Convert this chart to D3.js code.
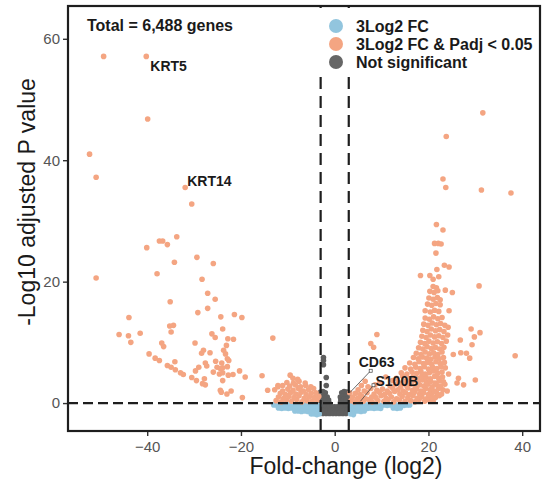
<!DOCTYPE html>
<html>
  <head>
    <meta charset="utf-8" />
    <title>Volcano plot</title>
    <style>
      body {
        margin: 0;
        background: #fff;
      }
      text {
        font-family: "Liberation Sans", Arial, sans-serif;
      }
    </style>
    <script src="https://d3js.org/d3.v7.min.js"></script>
  </head>
  <body>
    <div id="chart"></div>
    <script>
      // ---- data: [log2 fold-change, -log10 padj] ----

      // orange: |log2FC| > 3 and padj < 0.05, left (down) side
      const sigDown = [
        [-49.3, 57.1], [-40.2, 57.1], [-39.9, 46.8], [-52.3, 41.0], [-50.9, 37.2],
        [-31.9, 35.5], [-30.5, 32.8], [-33.7, 27.4], [-37.4, 26.7], [-36.7, 26.7],
        [-35.7, 26.1], [-40.1, 25.6], [-50.9, 20.6], [-37.9, 21.3], [-34.2, 23.2],
        [-29.4, 24.0], [-25.9, 23.0], [-28.3, 20.4], [-35.1, 16.7], [-27.1, 18.1],
        [-25.5, 17.1], [-27.1, 15.6], [-29.2, 14.9], [-24.3, 14.2], [-21.4, 14.6],
        [-19.8, 14.1], [-43.9, 14.1], [-35.2, 12.7], [-34.4, 12.8], [-34.9, 11.7],
        [-23.9, 12.2], [-46.0, 11.3], [-44.0, 11.1], [-41.5, 11.5], [-43.5, 10.0],
        [-26.2, 11.4], [-25.5, 10.8], [-22.8, 10.6], [-21.6, 10.5], [-13.2, 10.7],
        [-36.9, 9.9], [-36.5, 9.3], [-29.8, 9.9], [-23.1, 9.5], [-28.0, 8.7],
        [-28.4, 8.2], [-26.6, 8.3], [-23.7, 8.7], [-23.3, 8.1], [-39.6, 8.1],
        [-38.3, 7.4], [-37.4, 7.0], [-34.1, 6.8], [-22.9, 7.3], [-22.6, 7.0],
        [-27.6, 6.6], [-25.4, 6.9], [-24.1, 6.6], [-35.7, 6.2], [-34.9, 5.9],
        [-29.0, 5.9], [-25.1, 5.9], [-23.9, 5.8], [-22.9, 6.0], [-34.0, 5.5],
        [-29.7, 5.3], [-25.9, 5.1], [-24.6, 4.8], [-23.9, 5.0], [-20.3, 5.3],
        [-32.9, 5.0], [-32.3, 4.7], [-30.5, 4.2], [-27.8, 4.0], [-29.5, 3.7],
        [-22.7, 4.6], [-21.7, 4.7], [-19.1, 4.3], [-15.5, 4.5], [-28.2, 3.2],
        [-27.6, 3.0], [-23.9, 3.7], [-24.4, 2.1], [-23.0, 1.5], [-22.1, 2.0],
        [-19.7, 0.9], [-14.3, 2.1], [-12.1, 2.9], [-24.4, 5.7], [-27.3, 6.1],
        [-24.2, 1.8],
        // dense patch just left of the -3 cut-off
        [-12.5, 0.4], [-11.4, 0.2], [-10.3, 0.5], [-9.2, 0.3], [-8.1, 0.6],
        [-7.0, 0.2], [-5.9, 0.4], [-4.8, 0.3], [-3.7, 0.5],
        [-12.0, 1.0], [-10.9, 0.8], [-9.8, 1.1], [-8.7, 0.9], [-7.6, 1.2],
        [-6.5, 0.8], [-5.4, 1.0], [-4.3, 0.9], [-3.4, 1.1],
        [-11.6, 1.6], [-10.5, 1.4], [-9.4, 1.7], [-8.3, 1.5], [-7.2, 1.8],
        [-6.1, 1.4], [-5.0, 1.6], [-4.0, 1.7],
        [-12.8, 2.2], [-11.1, 2.0], [-10.0, 2.3], [-8.9, 2.1], [-7.8, 2.4],
        [-6.7, 2.0], [-5.6, 2.2], [-4.5, 2.4],
        [-12.1, 2.7], [-11.1, 2.9], [-9.6, 2.8], [-8.4, 3.0], [-7.3, 2.7],
        [-6.2, 2.9], [-5.1, 2.7],
        [-10.2, 3.4], [-8.8, 3.3], [-7.6, 3.6], [-6.3, 3.3],
        [-9.5, 4.6], [-8.9, 4.1], [-7.9, 3.9]
      ];

      // orange, right (up) side
      const sigUp = [
        [3.5, 0.4], [4.2, 0.2], [5.0, 0.5], [6.1, 0.3], [7.3, 0.6], [8.0, 0.2],
        [9.2, 0.4], [10.5, 0.3], [11.4, 0.6], [12.6, 0.2], [13.8, 0.5], [15.0, 0.3],
        [16.2, 0.4], [17.1, 0.2], [18.0, 0.6], [19.2, 0.3], [20.1, 0.5], [21.0, 0.3],
        [3.8, 1.0], [4.9, 0.8], [5.8, 1.1], [6.6, 0.7], [7.9, 1.0], [8.8, 0.9],
        [9.9, 1.2], [11.0, 0.8], [12.1, 1.0], [13.2, 0.7], [14.4, 1.1], [15.6, 0.9],
        [16.7, 1.2], [17.6, 0.8], [18.6, 1.0], [19.6, 0.7], [20.6, 1.1], [21.5, 0.9],
        [22.3, 1.2],
        [4.4, 1.6], [5.4, 1.4], [6.9, 1.7], [8.4, 1.5], [9.5, 1.8], [10.6, 1.4],
        [11.7, 1.6], [12.8, 1.9], [13.9, 1.5], [15.1, 1.7], [16.0, 1.4], [17.0, 1.8],
        [18.1, 1.5], [19.0, 1.7], [20.0, 1.4], [20.9, 1.8], [21.8, 1.6], [22.8, 1.5],
        [5.0, 2.2], [6.3, 2.0], [7.7, 2.4], [9.0, 2.1], [10.2, 2.3], [11.2, 2.0],
        [12.4, 2.4], [13.5, 2.2], [14.6, 2.0], [15.6, 2.5], [16.6, 2.1], [17.5, 2.3],
        [18.4, 2.0], [19.4, 2.4], [20.3, 2.2], [21.3, 2.0], [22.2, 2.4], [23.1, 2.2],
        [24.0, 2.0],
        [5.7, 2.9], [7.1, 2.7], [8.6, 3.0], [11.8, 2.8], [13.0, 3.1], [14.1, 2.7],
        [15.3, 2.9], [16.3, 3.1], [17.2, 2.7], [18.1, 3.0], [19.0, 2.8], [19.9, 3.1],
        [20.8, 2.7], [21.7, 3.0], [22.6, 2.8], [23.5, 3.1],
        [6.5, 3.6], [9.6, 3.4], [12.3, 3.7], [13.6, 3.4], [14.8, 3.6], [15.9, 3.3],
        [16.9, 3.7], [17.8, 3.5], [18.7, 3.8], [19.6, 3.4], [20.5, 3.6], [21.4, 3.3],
        [22.3, 3.7], [23.2, 3.5], [26.1, 3.3], [27.5, 3.0],
        [10.9, 4.3], [13.2, 4.1], [14.5, 4.4], [15.7, 4.0], [16.7, 4.3], [17.7, 4.1],
        [18.6, 4.5], [19.5, 4.2], [20.4, 4.0], [21.3, 4.4], [22.2, 4.1], [23.0, 4.3],
        [26.4, 4.1], [30.0, 3.8],
        [14.2, 5.0], [15.4, 4.8], [16.5, 5.1], [17.5, 4.9], [18.4, 5.2], [19.3, 4.8],
        [20.2, 5.0], [21.1, 5.3], [22.0, 4.9], [22.9, 5.1], [24.3, 4.8],
        [15.0, 5.8], [16.2, 5.6], [17.3, 5.9], [18.2, 5.7], [19.1, 6.0], [20.0, 5.6],
        [20.9, 5.9], [21.8, 5.7], [22.7, 6.0], [23.6, 5.8],
        [16.0, 6.6], [17.1, 6.4], [18.0, 6.8], [18.9, 6.5], [19.8, 6.7], [20.7, 6.4],
        [21.6, 6.8], [22.5, 6.5], [23.4, 6.7],
        [16.8, 7.5], [17.8, 7.3], [18.7, 7.6], [19.6, 7.4], [20.5, 7.2], [21.4, 7.6],
        [22.3, 7.3], [23.2, 7.5], [28.8, 7.4],
        [17.4, 8.2], [18.4, 8.0], [19.3, 8.4], [20.2, 8.1], [21.1, 8.3], [22.0, 8.0],
        [22.9, 8.4], [25.3, 8.0], [26.9, 8.3], [28.1, 8.2],
        [17.9, 9.1], [18.8, 8.9], [19.7, 9.3], [20.6, 9.0], [21.5, 9.2], [22.4, 8.9],
        [23.3, 9.2],
        [18.3, 10.0], [19.2, 9.8], [20.1, 10.2], [21.0, 9.9], [21.9, 10.1], [22.8, 9.8],
        [23.8, 10.2], [26.8, 10.4], [29.3, 9.6],
        [18.6, 11.0], [19.5, 10.8], [20.4, 11.2], [21.3, 10.9], [22.2, 11.1], [23.1, 10.8],
        [24.1, 11.2], [29.8, 10.9],
        [18.8, 12.0], [19.7, 11.8], [20.6, 12.2], [21.5, 11.9], [22.4, 12.1], [23.3, 11.8],
        [24.2, 12.5], [29.1, 12.2], [31.0, 11.6],
        [19.0, 13.0], [19.9, 12.8], [20.8, 13.2], [21.7, 12.9], [22.6, 13.1], [23.5, 12.8],
        [19.3, 14.0], [20.2, 13.8], [21.1, 14.2], [22.0, 13.9], [22.9, 14.1],
        [19.3, 15.2], [20.4, 15.0], [21.3, 15.3], [22.2, 15.1], [24.4, 15.2],
        [19.8, 16.3], [20.7, 16.1], [21.6, 16.4], [22.5, 16.2],
        [20.1, 17.3], [21.0, 17.1], [21.9, 17.4], [22.5, 17.0],
        [20.3, 18.4], [21.2, 18.2], [22.0, 18.5], [23.6, 18.6], [25.1, 18.2],
        [21.0, 19.2], [21.7, 19.0], [30.8, 19.3],
        [18.3, 21.0], [20.3, 21.0], [21.0, 20.4], [22.2, 20.8],
        [21.8, 22.0], [23.4, 22.7], [24.4, 22.4], [21.6, 24.7],
        [21.3, 26.3], [22.1, 26.3], [22.7, 26.2],
        [21.7, 29.4], [23.1, 28.5], [23.1, 36.9], [23.7, 35.5], [31.3, 35.1],
        [37.6, 34.6], [23.8, 43.9], [31.6, 47.8],
        [9.0, 11.3], [7.7, 9.8], [8.3, 9.2], [38.5, 7.8],
        [3.2, 1.7], [5.5, 0.3]
      ];

      // blue: |log2FC| > 3 only
      const fcOnly = [
        [-13.0, -0.3], [-12.4, -0.3], [-11.8, -0.4], [-11.2, -0.3], [-10.6, -0.4],
        [-10.0, -0.3], [-9.4, -0.4], [-8.8, -0.3], [-8.2, -0.4], [-7.6, -0.3],
        [-7.0, -0.4], [-6.4, -0.3], [-5.8, -0.4], [-5.2, -0.3], [-4.6, -0.4],
        [-4.0, -0.3], [-3.4, -0.4],
        [-12.0, -0.8], [-11.3, -0.9], [-10.6, -0.8], [-9.9, -0.9], [-9.2, -0.8],
        [-8.5, -0.9], [-7.8, -0.8], [-7.1, -0.9], [-6.4, -0.8], [-5.7, -0.9],
        [-5.0, -0.8], [-4.3, -0.9], [-3.6, -0.8],
        [-8.5, -1.3], [-7.8, -1.3], [-7.1, -1.4], [-6.4, -1.3], [-5.7, -1.4],
        [-5.0, -1.3], [-4.3, -1.4], [-3.6, -1.3],
        [-5.0, -1.8], [-4.4, -1.8], [-3.8, -1.9], [-3.3, -1.8],
        [3.4, -0.3], [4.0, -0.4], [4.6, -0.3], [5.2, -0.4], [5.8, -0.3], [6.4, -0.4],
        [7.0, -0.3], [7.6, -0.4], [8.2, -0.3], [8.8, -0.4], [9.4, -0.3], [10.0, -0.4],
        [10.6, -0.3], [11.2, -0.4], [11.8, -0.3], [12.4, -0.4], [13.0, -0.3],
        [13.6, -0.4], [14.2, -0.3], [14.8, -0.4], [15.5, -0.3], [16.0, -0.3],
        [3.5, -0.8], [4.2, -0.9], [4.9, -0.8], [5.6, -0.9], [6.3, -0.8], [7.0, -0.9],
        [7.7, -0.8], [8.4, -0.9], [9.1, -0.8], [9.8, -0.9], [12.5, -0.8], [13.3, -0.9],
        [14.0, -0.8],
        [3.5, -1.3], [4.2, -1.4], [4.9, -1.3], [5.6, -1.4], [6.3, -1.3],
        [3.4, -1.8], [4.0, -1.9]
      ];

      // grey: not significant
      const notSig = [
        [-3.0, 1.8], [-2.5, 1.9], [-2.0, 1.7], [1.5, 1.7], [2.0, 1.9], [2.6, 1.8],
        [-3.1, 1.2], [-2.6, 1.2], [-2.1, 1.1], [-1.6, 1.0], [1.2, 1.0], [1.8, 1.2],
        [2.4, 1.1], [2.9, 1.2],
        [-3.1, 0.6], [-2.5, 0.6], [-1.9, 0.5], [-1.3, 0.5], [1.3, 0.5], [1.9, 0.6],
        [2.5, 0.6], [3.0, 0.6],
        [-3.0, 0.0], [-2.4, 0.0], [-1.8, 0.0], [-1.2, 0.0], [1.2, 0.0], [1.8, 0.0],
        [2.4, 0.0], [3.0, 0.0],
        [-3.0, -0.6], [-2.4, -0.6], [-1.8, -0.6], [-1.2, -0.6], [-0.6, -0.6],
        [0.0, -0.6], [0.6, -0.6], [1.2, -0.6], [1.8, -0.6], [2.4, -0.6], [3.0, -0.6],
        [-2.8, -1.2], [-2.2, -1.2], [-1.6, -1.2], [-1.0, -1.2], [-0.4, -1.2],
        [0.2, -1.2], [0.8, -1.2], [1.4, -1.2], [2.0, -1.2], [2.6, -1.2],
        [-2.5, -1.7], [-1.8, -1.7], [-1.1, -1.7], [-0.4, -1.7], [0.3, -1.7],
        [1.0, -1.7], [1.7, -1.7], [2.4, -1.7],
        [-2.4, 7.5], [-2.4, 7.0], [-2.4, 6.3], [-1.8, 4.2], [-1.8, 2.9]
      ];

      // named genes
      const geneNames = ["KRT5", "KRT14", "CD63", "S100B"];
      const geneFC = [-40.2, -31.9, 3.2, 5.5];
      const geneP = [57.1, 35.5, 1.7, 0.3];

      const legendLabels = ["3Log2 FC", "3Log2 FC & Padj < 0.05", "Not significant"];
      const xTicks = [-40, -20, 0, 20, 40];
      const yTicks = [0, 20, 40, 60];
      const fcCut = 3;
      const pCut = 0;

      // ---- layout ----
      const width = 547, height = 489;
      const plot = { left: 68, right: 540, top: 6, bottom: 431 };
      const colBlue = "#92c5de", colOrange = "#f4a582", colGrey = "#5e5e5e";

      const svg = d3.select("#chart").append("svg")
        .attr("width", width)
        .attr("height", height);

      const x = d3.scaleLinear().domain([-56.9, 43.8]).range([plot.left, plot.right]);
      const y = d3.scaleLinear().domain([-4.6, 65.4]).range([plot.bottom, plot.top]);

      // clip so points stay inside the panel
      svg.append("clipPath").attr("id", "clip")
        .append("rect")
        .attr("x", plot.left).attr("y", plot.top)
        .attr("width", plot.right - plot.left)
        .attr("height", plot.bottom - plot.top);

      const pts = svg.append("g").attr("clip-path", "url(#clip)");

      function drawPoints(data, color) {
        pts.append("g").selectAll("circle")
          .data(data)
          .join("circle")
          .attr("cx", d => x(d[0]))
          .attr("cy", d => y(d[1]))
          .attr("r", 2.8)
          .attr("fill", color);
      }
      drawPoints(notSig, colGrey);
      drawPoints(fcOnly, colBlue);
      drawPoints(sigDown, colOrange);
      drawPoints(sigUp, colOrange);

      // cut-off lines
      const cuts = svg.append("g")
        .attr("stroke", "#1e1e1e")
        .attr("stroke-width", 2.2)
        .attr("stroke-dasharray", "12,7");
      [-fcCut, fcCut].forEach(v => {
        cuts.append("line")
          .attr("x1", x(v)).attr("x2", x(v))
          .attr("y1", plot.bottom).attr("y2", plot.top);
      });
      cuts.append("line")
        .attr("x1", plot.left).attr("x2", plot.right)
        .attr("y1", y(pCut)).attr("y2", y(pCut))
        .attr("stroke-dasharray", "10,5");

      // axes
      const xAxis = svg.append("g")
        .attr("transform", `translate(0,${plot.bottom})`)
        .call(d3.axisBottom(x).tickValues(xTicks).tickSize(5).tickPadding(5));
      const yAxis = svg.append("g")
        .attr("transform", `translate(${plot.left},0)`)
        .call(d3.axisLeft(y).tickValues(yTicks).tickSize(5).tickPadding(3));
      [xAxis, yAxis].forEach(a => {
        a.select(".domain").remove();
        a.selectAll(".tick line").attr("stroke", "#333").attr("stroke-width", 1.4);
        a.selectAll(".tick text")
          .attr("fill", "#555")
          .style("font-size", "15px")
          .style("font-family", "'Liberation Sans', Arial, sans-serif");
      });

      // panel border
      svg.append("rect")
        .attr("x", plot.left).attr("y", plot.top)
        .attr("width", plot.right - plot.left)
        .attr("height", plot.bottom - plot.top)
        .attr("fill", "none")
        .attr("stroke", "#1e1e1e")
        .attr("stroke-width", 2.2);

      // axis titles
      svg.append("text")
        .attr("x", 346).attr("y", 474)
        .attr("text-anchor", "middle")
        .attr("fill", "#1a1a1a")
        .style("font-size", "23px")
        .text("Fold-change (log2)");
      svg.append("text")
        .attr("transform", "translate(35,202) rotate(-90)")
        .attr("text-anchor", "middle")
        .attr("fill", "#1a1a1a")
        .style("font-size", "23px")
        .text("-Log10 adjusted P value");

      svg.append("text")
        .attr("x", 87).attr("y", 31)
        .attr("fill", "#1a1a1a")
        .style("font-size", "16px")
        .style("font-weight", "bold")
        .text("Total = 6,488 genes");

      // gene labels; first two sit beside their point, last two use leader lines
      const labelOffsets = [[4, 15], [2, -2], [9, -26], [15, -15]];
      const leaderEnds = [null, null, [21, -22], [13, -16]];
      geneNames.forEach((g, i) => {
        const px = x(geneFC[i]), py = y(geneP[i]);
        if (leaderEnds[i]) {
          const ex = px + leaderEnds[i][0], ey = py + leaderEnds[i][1];
          svg.append("line")
            .attr("x1", px).attr("y1", py).attr("x2", ex).attr("y2", ey)
            .attr("stroke", "#444").attr("stroke-width", 0.8);
          svg.append("rect")
            .attr("x", ex - 1.5).attr("y", ey - 1.5)
            .attr("width", 3).attr("height", 3)
            .attr("fill", "#fff").attr("stroke", "#444").attr("stroke-width", 0.7);
        }
        svg.append("text")
          .attr("x", px + labelOffsets[i][0])
          .attr("y", py + labelOffsets[i][1])
          .attr("fill", "#1a1a1a")
          .style("font-size", "14px")
          .style("font-weight", "bold")
          .text(g);
      });

      // legend (white box hides the top of the cut-off lines, like ggplot)
      const legend = svg.append("g");
      legend.append("rect")
        .attr("x", 315).attr("y", 8)
        .attr("width", 223).attr("height", 66)
        .attr("fill", "#fff");
      const legendColors = [colBlue, colOrange, "#666"];
      legendLabels.forEach((t, i) => {
        legend.append("circle")
          .attr("cx", 336).attr("cy", 26 + i * 18)
          .attr("r", 7).attr("fill", legendColors[i]);
        legend.append("text")
          .attr("x", 356).attr("y", 32 + i * 18)
          .attr("fill", "#1a1a1a")
          .style("font-size", "16px")
          .style("font-weight", "bold")
          .text(t);
      });
    </script>
  </body>
</html>
